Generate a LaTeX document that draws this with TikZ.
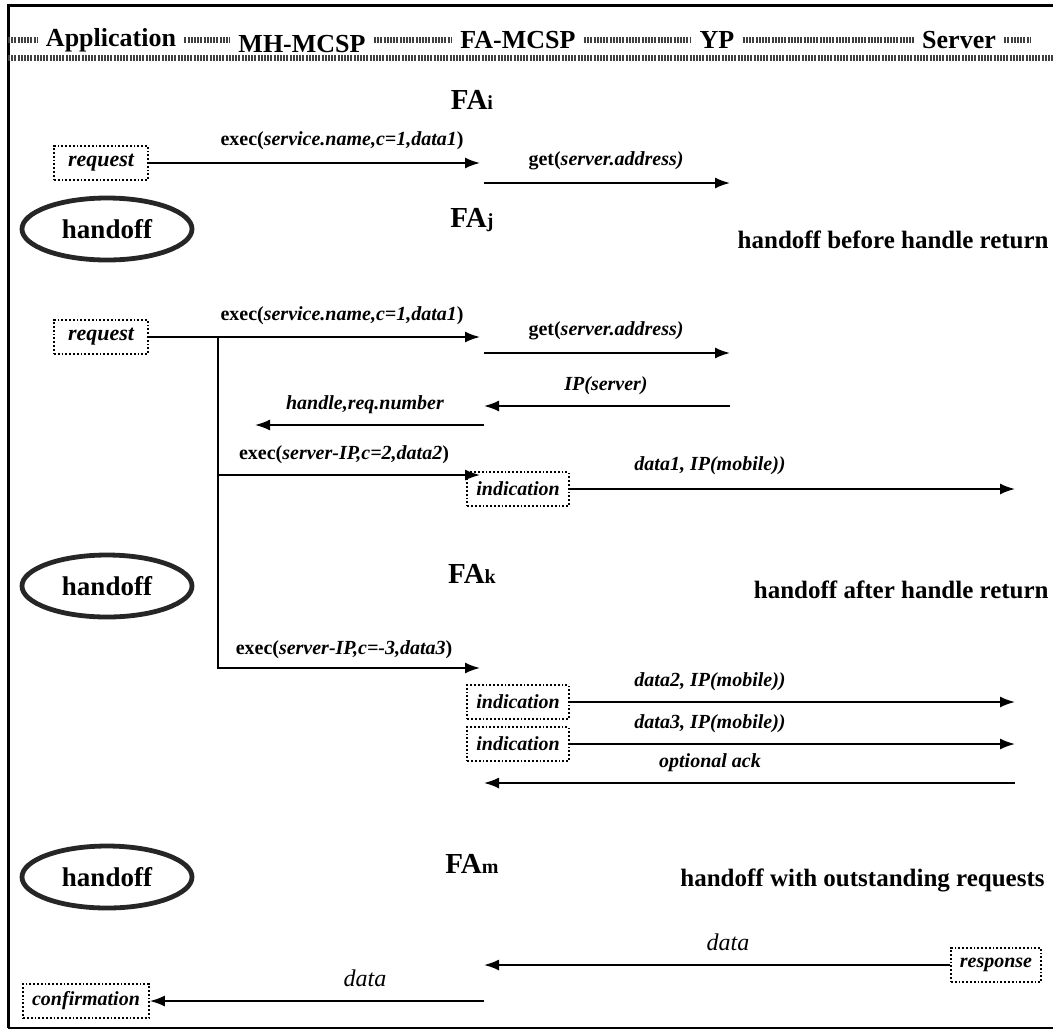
\documentclass[tikz,border=0pt]{standalone}
\usepackage{fontspec}
\setmainfont{Liberation Serif}
\usetikzlibrary{arrows.meta,positioning,calc,shapes.geometric}

\begin{document}
\begin{tikzpicture}[x=0.5pt, y=-0.5pt,
  every node/.style={font=\fontsize{10}{12}\selectfont\bfseries\itshape, inner sep=1pt},
  head/.style={font=\fontsize{13}{15}\selectfont\bfseries\upshape, inner sep=4pt},
  falbl/.style={font=\fontsize{14.5}{16}\selectfont\bfseries\upshape},
  case/.style={font=\fontsize{12.5}{14}\selectfont\bfseries\upshape, anchor=east},
  datalbl/.style={font=\fontsize{12}{14}\selectfont\mdseries\itshape},
  box/.style={draw, densely dotted, line width=0.9pt, inner xsep=4.5pt,
    minimum height=17pt},
  reqbox/.style={box, minimum width=47pt, font=\fontsize{11}{13}\selectfont\bfseries\itshape},
  oval/.style={ellipse, draw=black!85, line width=2.4pt, minimum width=85pt,
    minimum height=31pt, font=\fontsize{13.5}{15}\selectfont\bfseries\upshape},
  msg/.style={-{Latex[length=7.5pt,width=5.5pt]}, line width=0.9pt},
  hatch/.style={draw=black!75, line width=2.6pt, dash pattern=on 1pt off 0.6pt}
]
  \useasboundingbox (0,0) rectangle (1053,1034);

  % frame
  \draw[line width=1.5pt] (1053,5) -- (8,5) -- (8,1028);
  \draw[line width=0.9pt] (8,1028) -- (1053,1028);

  % header: lanes
  \node[head] (app) at (111,40) {Application};
  \node[head] (mh)  at (302,44) {MH-MCSP};
  \node[head] (fa)  at (518,40) {FA-MCSP};
  \node[head] (yp)  at (717,40) {YP};
  \node[head] (srv) at (959,40) {Server};

  \draw[hatch] (8,40) -- (app.west);
  \draw[hatch] (app.east) -- (app.east -| mh.west);
  \draw[hatch] (mh.east |- app.east) -- (fa.west);
  \draw[hatch] (fa.east) -- (yp.west);
  \draw[hatch] (yp.east) -- (srv.west);
  \draw[hatch] (srv.east) -- (1030,40);
  \draw[hatch] (8,58) -- (1053,58);

  % case 1: FAi
  \node[falbl] (fai) at (472,100) {FA{\fontsize{10}{12}\selectfont i}};
  \node[reqbox] (req1) at (101,163) {request};
  \coordinate (fa1) at (480,163);
  \draw[msg] (req1) -- (fa1);
  \node (x1) at (342,141) {{\upshape exec(}service.name,c=1,data1{\upshape )}};
  \coordinate (g1s) at (484,183);
  \coordinate (g1e) at (730,183);
  \draw[msg] (g1s) -- (g1e);
  \node (g1) at (606,161) {{\upshape get(}server.address)};

  \node[oval] (ho1) at (107,229) {handoff};
  \node[falbl] (faj) at (472,220) {FA{\fontsize{10}{12}\selectfont j}};
  \node[case] (c1) at (1051,240) {handoff before handle return};

  % case 2: FAj / FAk
  \node[reqbox] (req2) at (101,337) {request};
  \coordinate (fa2) at (480,337);
  \coordinate (trunk) at (218,337);
  \draw[msg] (req2) -- (fa2);
  \node (x2) at (342,316) {{\upshape exec(}service.name,c=1,data1{\upshape )}};
  \coordinate (g2s) at (484,353);
  \coordinate (g2e) at (730,353);
  \draw[msg] (g2s) -- (g2e);
  \node (g2) at (606,331) {{\upshape get(}server.address)};

  \coordinate (ips) at (730,406);
  \coordinate (ipe) at (484,406);
  \draw[msg] (ips) -- (ipe);
  \node (ip) at (606,386) {IP(server)};
  \coordinate (hd) at (255,425);
  \draw[msg] (ipe |- hd) -- (hd);
  \node (hl) at (365,405) {handle,req.number};

  \coordinate (br2) at (218,475);
  \coordinate (fa3) at (480,475);
  \draw[msg] (br2) -- (fa3);
  \node (x3) at (344,455) {{\upshape exec(}server-IP,c=2,data2{\upshape )}};
  \node[box] (ind1) at (518,489) {indication};
  \coordinate (s1) at (1015,489);
  \draw[msg] (ind1) -- (s1);
  \node (d1) at (710,466) {data1, IP(mobile))};

  \node[oval] (ho2) at (107,586) {handoff};
  \node[falbl] (fak) at (472,574) {FA{\fontsize{10}{12}\selectfont k}};
  \node[case] (c2) at (1051,590) {handoff after handle return};

  \coordinate (fa4) at (480,668);
  \draw[msg] (trunk) |- (fa4);
  \node (x4) at (344,650) {{\upshape exec(}server-IP,c=-3,data3{\upshape )}};
  \node[box] (ind2) at (518,702) {indication};
  \coordinate (s2) at (1015,702);
  \draw[msg] (ind2) -- (s2);
  \node (d2) at (710,682) {data2, IP(mobile))};
  \node[box] (ind3) at (518,744) {indication};
  \coordinate (s3) at (1015,744);
  \draw[msg] (ind3) -- (s3);
  \node (d3) at (710,724) {data3, IP(mobile))};
  \coordinate (aks) at (1015,783);
  \coordinate (ake) at (484,783);
  \draw[msg] (aks) -- (ake);
  \node (ak) at (710,763) {optional ack};

  % case 3: FAm
  \node[oval] (ho3) at (107,877) {handoff};
  \node[falbl] (fam) at (472,864) {FA{\fontsize{10}{12}\selectfont m}};
  \node[case] (c3) at (1047,880) {handoff with outstanding requests};

  \node[box] (resp) at (996,965) {response};
  \coordinate (fa5) at (484,965);
  \draw[msg] (resp) -- (fa5);
  \node[datalbl] (dt1) at (728,942) {data};
  \node[box] (conf) at (86,1001) {confirmation};
  \coordinate (fa6) at (484,1001);
  \draw[msg] (fa6) -- (conf);
  \node[datalbl] (dt2) at (365,978) {data};
\end{tikzpicture}
\end{document}
